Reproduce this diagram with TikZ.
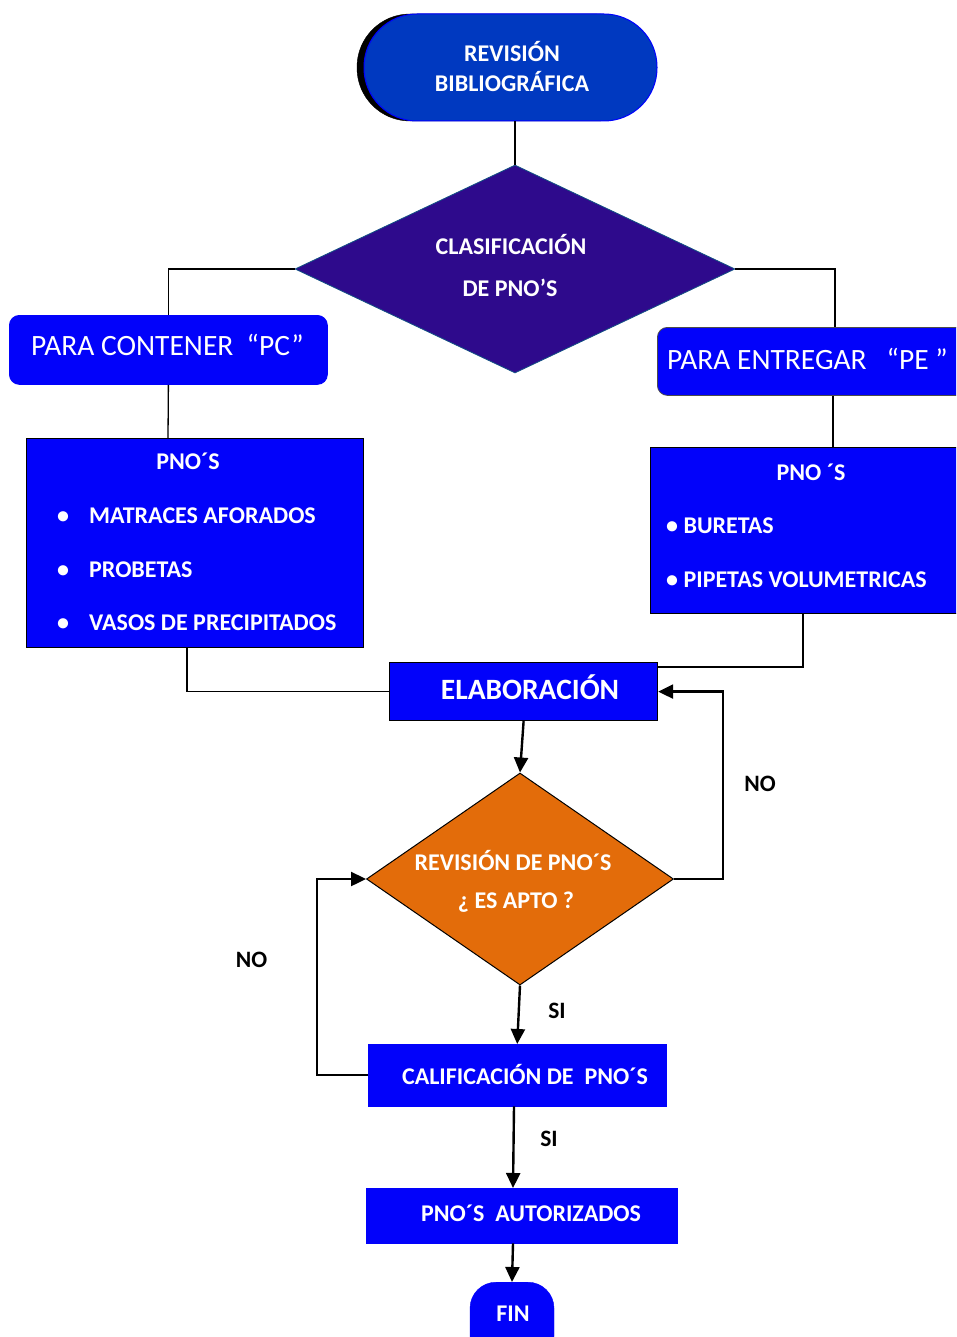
\documentclass[tikz,border=0pt]{standalone}
\usepackage{fontspec}
\setmainfont{Carlito}
\usetikzlibrary{arrows.meta,shapes.geometric}
\definecolor{termblue}{RGB}{0,57,192}
\definecolor{boxblue}{RGB}{2,2,250}
\definecolor{classpurple}{RGB}{46,10,140}
\definecolor{checkorange}{RGB}{227,108,10}
\begin{document}
\begin{tikzpicture}[x=1pt,y=-1pt,
  conn/.style={draw=black,line width=1.3pt},
  flow/.style={draw=black,line width=2.4pt,-{Triangle[length=15pt,width=14pt]}},
  bluebox/.style={fill=boxblue,draw=black,line width=1.2pt,inner sep=0pt,anchor=north west},
  plainbox/.style={fill=boxblue,draw=boxblue,inner sep=0pt,anchor=north west},
  roundbox/.style={fill=boxblue,draw=black!70,line width=0.8pt,rounded corners=10pt,inner sep=0pt,anchor=north west},
  wtxt/.style={text=white,font=\bfseries\fontsize{24}{28}\selectfont,inner sep=0pt,anchor=base},
  wltxt/.style={wtxt,anchor=base west},
  bigtxt/.style={text=white,font=\fontsize{29.5}{34}\selectfont,inner sep=0pt,anchor=base west},
  ktxt/.style={text=black,font=\bfseries\fontsize{23.5}{28}\selectfont,inner sep=0pt,anchor=base}
]
\path[use as bounding box] (0,0) rectangle (956,1337);
\clip (0,0) rectangle (956,1337);

% start terminator with its dark shadow
\node[fill=black,draw=black,rounded corners=53pt,minimum width=293,minimum height=107,inner sep=0pt] (startshadow) at (503.5,67.5) {};
\node[fill=termblue,draw=blue,line width=1pt,rounded corners=53pt,minimum width=293,minimum height=107,inner sep=0pt] (start) at (510.5,67.5) {};
\node[wtxt] at (512,62) {REVISIÓN};
\node[wtxt] at (512,92) {BIBLIOGRÁFICA};

% classification decision
\node[diamond,fill=classpurple,draw=teal!60!classpurple,line width=0.8pt,minimum width=440,minimum height=208,inner sep=0pt] (clas) at (515,269) {};
\node[wtxt] at (511,255) {CLASIFICACIÓN};
\node[wtxt] at (510,297) {DE PNO’S};

% two branches
\node[roundbox,minimum width=318,minimum height=69,draw=boxblue] (pc) at (9,315) {};
\node[bigtxt] at (31,355) {PARA CONTENER\ \ “PC”};
\node[roundbox,minimum width=320,minimum height=68] (pe) at (657,327) {};
\node[bigtxt] at (667,369) {PARA ENTREGAR\ \ \ “PE ”};

\node[bluebox,minimum width=337,minimum height=209] (pcl) at (26,438) {};
\node[wtxt] at (188,469) {PNO´S};
\node[wtxt] at (63,523) {•};
\node[wltxt] at (89,523) {MATRACES AFORADOS};
\node[wtxt] at (63,577) {•};
\node[wltxt] at (89,577) {PROBETAS};
\node[wtxt] at (63,630) {•};
\node[wltxt] at (89,630) {VASOS DE PRECIPITADOS};

\node[bluebox,minimum width=320,minimum height=166] (pel) at (650,447) {};
\node[wtxt] at (811,480) {PNO ´S};
\node[wltxt] at (666,533) {• BURETAS};
\node[wltxt] at (666,587) {• PIPETAS VOLUMETRICAS};

% process chain
\node[bluebox,minimum width=268,minimum height=58] (elab) at (389,662) {};
\node[wtxt,font=\bfseries\fontsize{29.5}{34}\selectfont] at (530,699) {ELABORACIÓN};

\node[diamond,fill=checkorange,draw=black,line width=1pt,minimum width=307,minimum height=212,inner sep=0pt] (rev) at (520,879) {};
\node[wtxt] at (513,870) {REVISIÓN DE PNO´S};
\node[wtxt] at (516,908) {¿ ES APTO ?};

\node[plainbox,minimum width=298,minimum height=62] (calif) at (368,1044) {};
\node[wtxt] at (525,1084) {CALIFICACIÓN DE\ \ PNO´S};

\node[plainbox,minimum width=311,minimum height=55] (autor) at (366,1188) {};
\node[wtxt] at (531,1221) {PNO´S\ \ AUTORIZADOS};

\node[fill=boxblue,draw=boxblue,rounded corners=26pt,minimum width=84,minimum height=80,inner sep=0pt,anchor=north] (fin) at (512,1282) {};
\node[wtxt] at (513,1321) {FIN};

% connectors
\draw[conn] (clas.north |- start.south) -- (clas.north);
\draw[conn] (clas.west) -| (pc.north);
\draw[conn] (clas.east) -| ([xshift=178pt]pe.north west);
\draw[conn] (pc.south) -- ([xshift=142pt]pcl.north west);
\draw[conn] ([xshift=176pt]pe.south west) -- ([xshift=183pt]pel.north west);
\draw[conn] ([xshift=161pt]pcl.south west) |- (elab.west);
\draw[conn,line width=2pt] ([xshift=153pt]pel.south west) |- ([yshift=-5pt]elab.north east);

\draw[flow] (elab.south) -- (rev.north);
\draw[flow] (rev.east) -- ++(49,0) |- (elab.east);
\draw[flow] (rev.south) -- (calif.north);
\draw[flow] (calif.west) -- ++(-51,0) |- (rev.west);
\draw[flow] ([xshift=146pt]calif.south west) -- ([xshift=147pt]autor.north west);
\draw[flow] ([xshift=147pt]autor.south west) -- (fin.north);

% branch labels
\node[ktxt] at (760,791) {NO};
\node[ktxt] at (251.5,967) {NO};
\node[ktxt] at (557,1018) {SI};
\node[ktxt] at (549,1146) {SI};
\end{tikzpicture}
\end{document}
